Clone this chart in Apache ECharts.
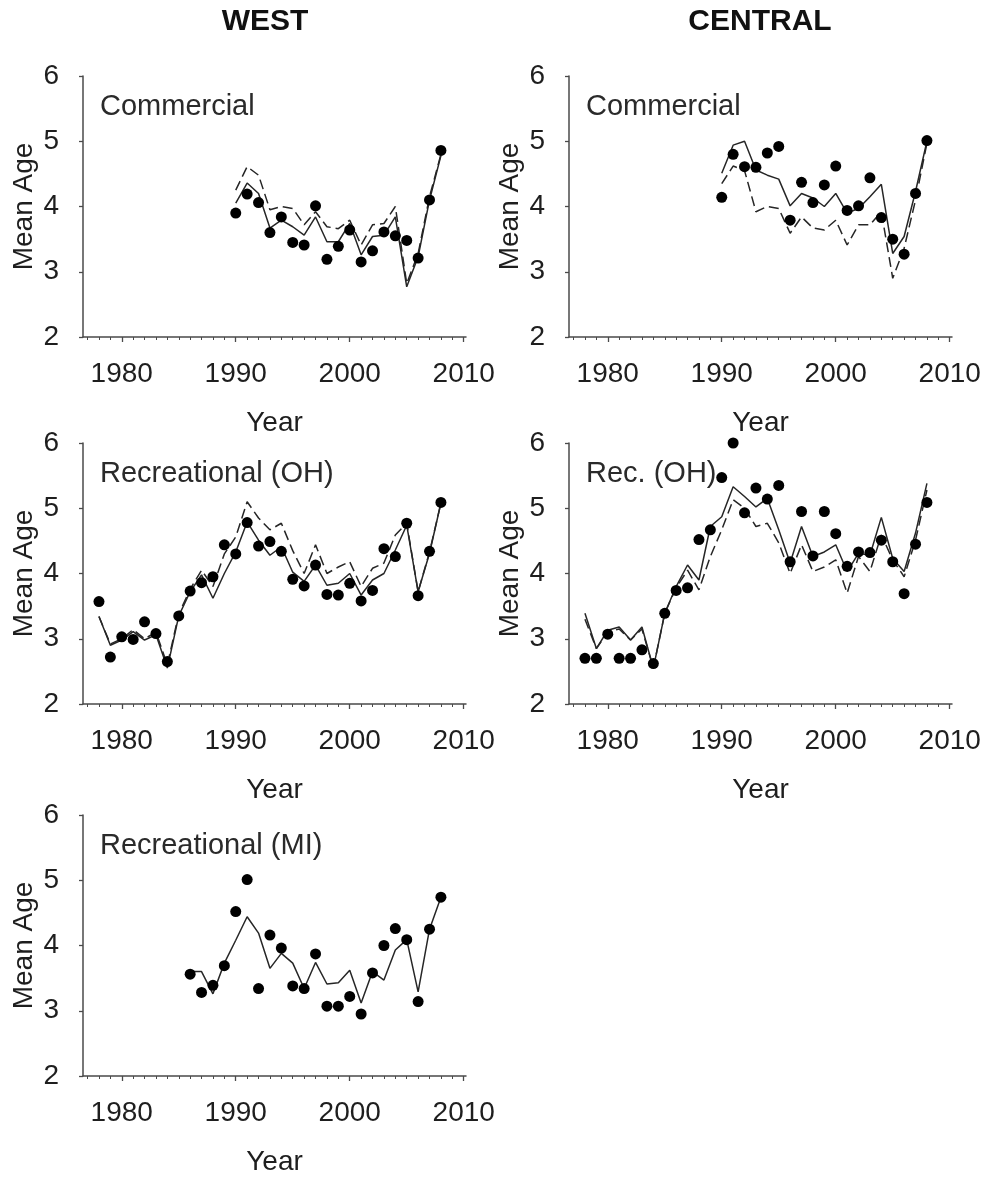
<!DOCTYPE html>
<html>
<head>
<meta charset="utf-8">
<script src="https://cdn.jsdelivr.net/npm/echarts@6/dist/echarts.min.js"></script>
<style>
  html, body { margin: 0; padding: 0; background: #ffffff; }
  #chart { width: 992px; height: 1177px; }
</style>
</head>
<body>
<div id="chart"></div>
<script>
// ---- Year lists ----
const yearsCom = [1990,1991,1992,1993,1994,1995,1996,1997,1998,1999,2000,2001,2002,2003,2004,2005,2006,2007,2008];
const yearsRecOH = [1978,1979,1980,1981,1982,1983,1984,1985,1986,1987,1988,1989,1990,1991,1992,1993,1994,1995,1996,1997,1998,1999,2000,2001,2002,2003,2004,2005,2006,2007,2008];
const yearsRecMI = [1986,1987,1988,1989,1990,1991,1992,1993,1994,1995,1996,1997,1998,1999,2000,2001,2002,2003,2004,2005,2006,2007,2008];

// ---- Axis tick values ----
const majorYears = [1980, 1990, 2000, 2010];
const minorYears = [1977,1978,1979,1980,1981,1982,1983,1984,1985,1986,1987,1988,1989,1990,1991,1992,1993,1994,1995,1996,1997,1998,1999,2000,2001,2002,2003,2004,2005,2006,2007,2008,2009,2010];

// ---- West, commercial ----
const westComObs    = [3.90,4.19,4.06,3.60,3.84,3.45,3.41,4.01,3.19,3.39,3.64,3.15,3.32,3.61,3.55,3.48,3.21,4.10,4.86];
const westComSolid  = [4.05,4.36,4.20,3.67,3.79,3.69,3.56,3.84,3.46,3.46,3.74,3.26,3.54,3.56,3.84,2.77,3.23,4.10,4.78];
const westComDashed = [4.25,4.61,4.48,3.95,4.00,3.97,3.72,3.92,3.69,3.66,3.79,3.41,3.72,3.74,4.00,2.82,3.28,4.15,4.80];

// ---- Central, commercial ----
const centComObs    = [4.14,4.80,4.61,4.60,4.82,4.92,3.79,4.37,4.06,4.33,4.62,3.94,4.01,4.44,3.83,3.50,3.27,4.20,5.01];
const centComSolid  = [4.51,4.94,5.00,4.56,4.48,4.42,4.01,4.20,4.13,4.00,4.20,3.90,3.97,4.15,4.34,3.28,3.54,4.23,5.00];
const centComDashed = [4.35,4.62,4.55,3.92,4.00,3.97,3.59,3.84,3.67,3.64,3.79,3.41,3.72,3.72,3.92,2.90,3.36,4.10,4.97];

// ---- West, recreational (OH) ----
const westOHObs    = [3.57,2.72,3.03,2.99,3.26,3.08,2.65,3.35,3.73,3.86,3.95,4.44,4.30,4.78,4.42,4.49,4.34,3.91,3.81,4.13,3.68,3.67,3.85,3.58,3.74,4.38,4.26,4.77,3.66,4.34,5.09];
const westOHSolid  = [3.34,2.90,2.98,3.11,2.98,3.06,2.55,3.35,3.72,3.98,3.62,4.00,4.33,4.79,4.51,4.28,4.41,4.02,3.88,4.13,3.82,3.85,4.00,3.67,3.90,4.00,4.36,4.74,3.72,4.31,5.08];
const westOHDashed = [3.34,2.92,3.00,3.14,3.00,3.10,2.60,3.38,3.76,4.05,3.80,4.30,4.56,5.10,4.85,4.67,4.77,4.35,4.00,4.44,4.00,4.10,4.18,3.80,4.08,4.16,4.59,4.77,3.72,4.33,5.08];

// ---- Central, recreational (OH) ----
const centOHObs    = [2.70,2.70,3.07,2.70,2.70,2.83,2.62,3.39,3.74,3.78,4.52,4.67,5.47,6.00,4.93,5.31,5.14,5.35,4.18,4.95,4.27,4.95,4.61,4.11,4.33,4.32,4.51,4.18,3.69,4.45,5.09];
const centOHSolid  = [3.39,2.85,3.13,3.18,2.98,3.18,2.55,3.39,3.80,4.13,3.90,4.72,4.87,5.33,5.18,5.02,5.15,4.67,4.16,4.72,4.26,4.33,4.44,4.03,4.31,4.28,4.86,4.23,4.03,4.62,5.38];
const centOHDashed = [3.30,2.85,3.10,3.15,2.98,3.15,2.55,3.39,3.78,4.05,3.75,4.26,4.67,5.13,5.00,4.72,4.77,4.47,4.00,4.44,4.03,4.10,4.21,3.70,4.26,4.03,4.59,4.21,3.95,4.51,5.28];

// ---- West, recreational (MI) ----
const westMIObs   = [3.56,3.28,3.39,3.69,4.52,5.01,3.34,4.16,3.96,3.38,3.34,3.87,3.07,3.07,3.22,2.95,3.58,4.00,4.26,4.09,3.14,4.25,4.74];
const westMISolid = [3.60,3.60,3.26,3.73,4.08,4.44,4.19,3.65,3.88,3.73,3.34,3.74,3.41,3.43,3.62,3.12,3.60,3.47,3.93,4.09,3.29,4.25,4.74];

// ---- Layout of the five panels ----
const FONT = '"Liberation Sans", Arial, sans-serif';
const colLeft = [83, 569];
const rowTop = [76, 443, 815];
const plotW = 383, plotH = 261;
const X_MIN = 1976.6, X_MAX = 2010.2;

const panels = [
  { col: 0, row: 0, label: 'Commercial', years: yearsCom, obs: westComObs, solid: westComSolid, dashed: westComDashed },
  { col: 1, row: 0, label: 'Commercial', years: yearsCom, obs: centComObs, solid: centComSolid, dashed: centComDashed },
  { col: 0, row: 1, label: 'Recreational (OH)', years: yearsRecOH, obs: westOHObs, solid: westOHSolid, dashed: westOHDashed },
  { col: 1, row: 1, label: 'Rec. (OH)', years: yearsRecOH, obs: centOHObs, solid: centOHSolid, dashed: centOHDashed },
  { col: 0, row: 2, label: 'Recreational (MI)', years: yearsRecMI, obs: westMIObs, solid: westMISolid, dashed: null }
];

const pair = (xs, ys) => xs.map((x, i) => [x, ys[i]]);
const axisColor = '#4a4a4a';
const textColor = '#1e1e1e';
const lineColor = '#262626';

const grid = [], xAxis = [], yAxis = [], series = [], graphic = [];

panels.forEach((p, g) => {
  const left = colLeft[p.col], top = rowTop[p.row];
  grid.push({ left: left, top: top, width: plotW, height: plotH, containLabel: false });

  // major ticks + labels
  xAxis.push({
    type: 'value', gridIndex: g, min: X_MIN, max: X_MAX,
    axisLine: { show: true, onZero: false, lineStyle: { color: axisColor, width: 1.5 } },
    axisTick: { show: true, length: 5, customValues: majorYears, lineStyle: { color: axisColor, width: 1.3 } },
    axisLabel: {
      show: true, customValues: majorYears, margin: 23, fontSize: 28, fontFamily: FONT, color: textColor,
      formatter: (v) => String(Math.round(v))
    },
    splitLine: { show: false },
    name: 'Year', nameLocation: 'middle', nameGap: 72,
    nameTextStyle: { fontSize: 28, fontFamily: FONT, color: textColor }
  });
  // yearly minor ticks
  xAxis.push({
    type: 'value', gridIndex: g, min: X_MIN, max: X_MAX, position: 'bottom',
    axisLine: { show: false },
    axisTick: { show: true, length: 3, customValues: minorYears, lineStyle: { color: axisColor, width: 1 } },
    axisLabel: { show: false },
    splitLine: { show: false }
  });
  yAxis.push({
    type: 'value', gridIndex: g, min: 2, max: 6, interval: 1,
    axisLine: { show: true, onZero: false, lineStyle: { color: axisColor, width: 1.5 } },
    axisTick: { show: true, length: 4, lineStyle: { color: axisColor, width: 1.3 } },
    axisLabel: { margin: 24, fontSize: 28, fontFamily: FONT, color: textColor },
    splitLine: { show: false },
    name: 'Mean Age', nameLocation: 'middle', nameRotate: 90, nameGap: 45,
    nameTextStyle: { fontSize: 28, fontFamily: FONT, color: textColor }
  });

  const xi = g * 2;
  series.push({
    type: 'line', xAxisIndex: xi, yAxisIndex: g, data: pair(p.years, p.solid),
    showSymbol: false, symbol: 'none', silent: true,
    lineStyle: { color: lineColor, width: 1.5 }, z: 2
  });
  if (p.dashed) {
    series.push({
      type: 'line', xAxisIndex: xi, yAxisIndex: g, data: pair(p.years, p.dashed),
      showSymbol: false, symbol: 'none', silent: true,
      lineStyle: { color: lineColor, width: 1.5, type: [10, 5] }, z: 2
    });
  }
  series.push({
    type: 'scatter', xAxisIndex: xi, yAxisIndex: g, data: pair(p.years, p.obs),
    symbol: 'circle', symbolSize: 11, clip: false,
    itemStyle: { color: '#000000', opacity: 1 }, z: 3
  });

  graphic.push({
    type: 'text', x: left + 17, y: top + 31,
    style: { text: p.label, font: '29px ' + FONT, fill: '#2a2a2a', align: 'left', verticalAlign: 'middle' }
  });
});

// column headings
graphic.push({
  type: 'text', x: 265, y: 22,
  style: { text: 'WEST', font: 'bold 30px ' + FONT, fill: '#111', align: 'center', verticalAlign: 'middle' }
});
graphic.push({
  type: 'text', x: 760, y: 22,
  style: { text: 'CENTRAL', font: 'bold 30px ' + FONT, fill: '#111', align: 'center', verticalAlign: 'middle' }
});

const chart = echarts.init(document.getElementById('chart'), null, { renderer: 'canvas' });
chart.setOption({
  animation: false,
  backgroundColor: '#ffffff',
  grid: grid, xAxis: xAxis, yAxis: yAxis, series: series, graphic: graphic
});
</script>
</body>
</html>
